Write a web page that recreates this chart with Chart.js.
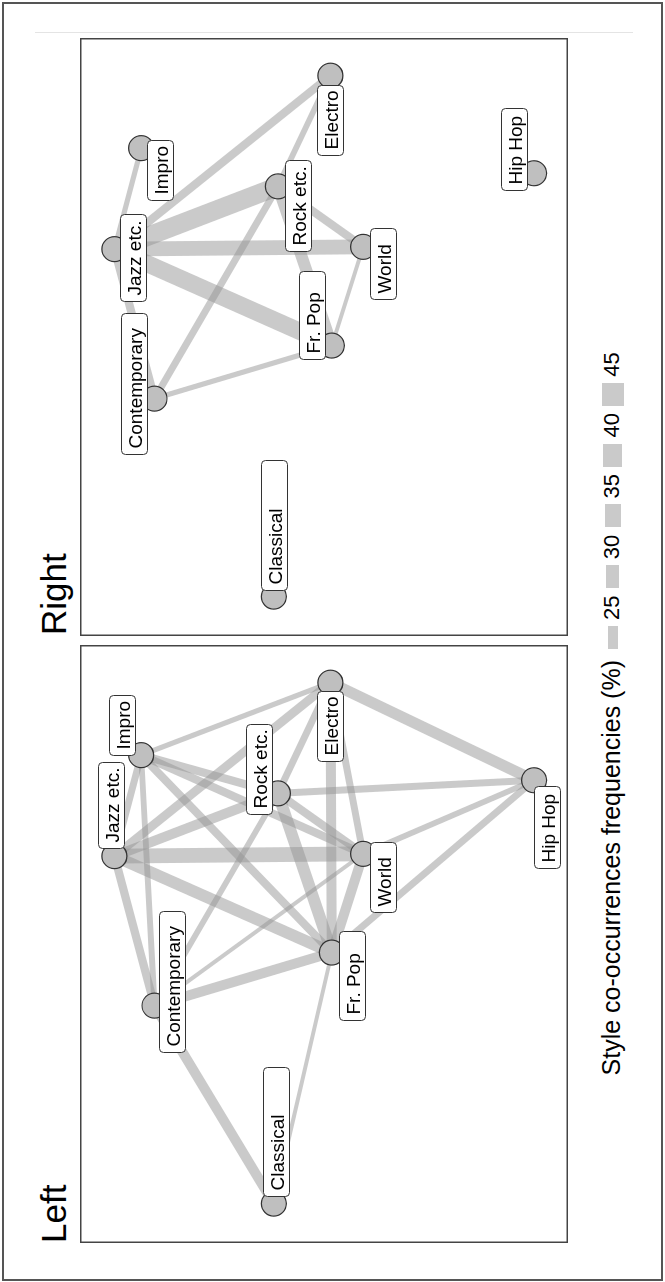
<!DOCTYPE html>
<html>
<head>
<meta charset="utf-8">
<script src="https://cdn.jsdelivr.net/npm/chart.js@4.4.1/dist/chart.umd.min.js"></script>
<style>
  html, body { margin: 0; padding: 0; background: #fff; overflow: hidden; }
  body { width: 665px; height: 1282px; position: relative; }
  /* the figure is laid out landscape, then turned a quarter to the left */
  #page {
    position: absolute; left: 0; top: 0; width: 1282px; height: 665px;
    transform-origin: 0 0; transform: translateY(1282px) rotate(-90deg);
    font-family: "Liberation Sans", Arial, sans-serif; color: #000;
  }
  #frame { position: absolute; left: 1px; top: 2px; width: 1279px; height: 661px; box-sizing: border-box; border: 2px solid #555; }
  #rule { position: absolute; left: 1249px; top: 35px; width: 1px; height: 598px; background: #e4e4e4; }
  .panel { position: absolute; top: 80px; }
  .title { position: absolute; font-size: 35px; line-height: 35px; white-space: nowrap; }
  .leg { position: absolute; line-height: 1; white-space: nowrap; }
  .key { position: absolute; }
</style>
</head>
<body>
<div id="page">
  <div id="frame"></div>
  <div id="rule"></div>
  <div class="title" style="left:39px; top:36px;">Left</div>
  <div class="title" style="left:647px; top:36px;">Right</div>
  <canvas id="left" class="panel" style="left:39px;" width="598" height="488"></canvas>
  <canvas id="right" class="panel" style="left:646px;" width="598" height="488"></canvas>
  <div id="legend"></div>
</div>
<script>
// node layout (same layout in both panels, 0-1 across the panel)
const nodeNames = ['Classical', 'Contemporary', 'Jazz etc.', 'Impro', 'Rock etc.', 'Electro', 'World', 'Fr. Pop', 'Hip Hop'];
const nodeX = [0.045, 0.392, 0.654, 0.831, 0.764, 0.958, 0.658, 0.485, 0.787];
const nodeY = [0.391, 0.132, 0.045, 0.103, 0.400, 0.514, 0.585, 0.517, 0.956];

// co-occurrence frequencies (%) : [style, style, value]
const leftEdges = [
  ['Classical', 'Contemporary', 25],
  ['Classical', 'Fr. Pop', 15],
  ['Contemporary', 'Jazz etc.', 22],
  ['Contemporary', 'Impro', 18],
  ['Contemporary', 'Fr. Pop', 25],
  ['Contemporary', 'Rock etc.', 18],
  ['Contemporary', 'World', 15],
  ['Jazz etc.', 'Impro', 20],
  ['Jazz etc.', 'Electro', 23],
  ['Jazz etc.', 'Rock etc.', 25],
  ['Jazz etc.', 'World', 33],
  ['Jazz etc.', 'Fr. Pop', 28],
  ['Impro', 'Electro', 17],
  ['Impro', 'Rock etc.', 22],
  ['Impro', 'World', 22],
  ['Impro', 'Fr. Pop', 22],
  ['Rock etc.', 'Electro', 20],
  ['Rock etc.', 'World', 22],
  ['Rock etc.', 'Fr. Pop', 28],
  ['Rock etc.', 'Hip Hop', 20],
  ['Electro', 'Fr. Pop', 25],
  ['Electro', 'World', 20],
  ['Electro', 'Hip Hop', 27],
  ['World', 'Fr. Pop', 25],
  ['World', 'Hip Hop', 18],
  ['Fr. Pop', 'Hip Hop', 20]
];
const rightEdges = [
  ['Jazz etc.', 'Impro', 17],
  ['Jazz etc.', 'Contemporary', 22],
  ['Jazz etc.', 'Rock etc.', 40],
  ['Jazz etc.', 'Electro', 22],
  ['Jazz etc.', 'World', 33],
  ['Jazz etc.', 'Fr. Pop', 37],
  ['Rock etc.', 'Contemporary', 20],
  ['Rock etc.', 'Electro', 18],
  ['Rock etc.', 'World', 22],
  ['Rock etc.', 'Fr. Pop', 28],
  ['World', 'Fr. Pop', 15],
  ['Contemporary', 'Fr. Pop', 17]
];
const legendBreaks = [25, 30, 35, 40, 45];
const legendTitle = 'Style co-occurrences frequencies (%)';

const edgeColor = 'rgba(150,150,150,0.5)';
function widthFor(f) { return 10 + 0.6 * (f - 25); }

// label boxes: [dx, dy, width] from the node centre, in pixels
const leftBoxes = {
  'Impro': [-1, -32, 60], 'Jazz etc.': [7, -16, 86], 'Rock etc.': [-22, -32, 90],
  'Electro': [-79, -13, 70], 'World': [-59, 7, 70], 'Fr. Pop': [-68, 7, 89],
  'Contemporary': [-47, 5, 141], 'Classical': [7, -11, 129], 'Hip Hop': [-89, 0, 82]
};
const rightBoxes = {
  'Impro': [-53, 6, 60], 'Jazz etc.': [-53, 6, 87], 'Rock etc.': [-66, 7, 91],
  'Electro': [-80, -13, 70], 'World': [-53, 7, 71], 'Fr. Pop': [-14, -33, 88],
  'Contemporary': [-56, -33, 141], 'Classical': [6, -13, 130], 'Hip Hop': [-18, -33, 82]
};

const labelPlugin = {
  id: 'nodeLabels',
  afterDatasetsDraw(chart, args, opts) {
    const ctx = chart.ctx;
    const xs = chart.scales.x, ys = chart.scales.y;
    ctx.save();
    ctx.font = '19px "Liberation Sans", Arial, sans-serif';
    ctx.textBaseline = 'alphabetic';
    nodeNames.forEach((name, i) => {
      const b = opts.boxes[name];
      const x0 = Math.round(xs.getPixelForValue(nodeX[i]) + b[0]) + 0.5;
      const y0 = Math.round(ys.getPixelForValue(nodeY[i]) + b[1]) + 0.5;
      ctx.beginPath();
      ctx.roundRect(x0, y0, b[2], 26, 4);
      ctx.fillStyle = '#fff';
      ctx.fill();
      ctx.strokeStyle = '#333';
      ctx.lineWidth = 1;
      ctx.stroke();
      ctx.fillStyle = '#000';
      ctx.fillText(name, x0 + 6, y0 + 20);
    });
    ctx.strokeStyle = '#444';
    ctx.lineWidth = 1.5;
    ctx.strokeRect(0.75, 0.75, chart.width - 1.5, chart.height - 1.5);
    ctx.restore();
  }
};

function drawPanel(id, edges, boxes) {
  const pos = name => {
    const i = nodeNames.indexOf(name);
    return { x: nodeX[i], y: nodeY[i] };
  };
  const datasets = [{
    data: nodeNames.map(pos),
    pointRadius: 12.5,
    pointBackgroundColor: '#bfbfbf',
    pointBorderColor: '#333',
    pointBorderWidth: 1.2,
    backgroundColor: '#bfbfbf',
    borderColor: '#333',
    order: 0
  }];
  edges.forEach(e => {
    datasets.push({
      data: [pos(e[0]), pos(e[1])],
      showLine: true,
      borderColor: edgeColor,
      borderWidth: widthFor(e[2]),
      borderCapStyle: 'butt',
      pointRadius: 0,
      order: 1
    });
  });
  new Chart(document.getElementById(id), {
    type: 'scatter',
    data: { datasets: datasets },
    options: {
      responsive: false,
      animation: false,
      events: [],
      layout: { padding: 0 },
      scales: {
        x: { type: 'linear', min: 0, max: 1, display: false },
        y: { type: 'linear', min: 0, max: 1, reverse: true, display: false }
      },
      plugins: {
        legend: { display: false },
        tooltip: { enabled: false },
        nodeLabels: { boxes: boxes }
      }
    },
    plugins: [labelPlugin]
  });
}

drawPanel('left', leftEdges, leftBoxes);
drawPanel('right', rightEdges, rightBoxes);

// size legend
const legend = document.getElementById('legend');
const baseline = 620;
function legendText(txt, size) {
  const d = document.createElement('div');
  d.className = 'leg';
  d.textContent = txt;
  d.style.fontSize = size + 'px';
  d.style.top = (baseline - 0.8465 * size) + 'px';
  legend.appendChild(d);
  return d;
}
const t = legendText(legendTitle, 25);
t.style.right = (1282 - 622) + 'px';
legendBreaks.forEach((b, i) => {
  const x = 633 + i * 60.8;
  const w = widthFor(b);
  const k = document.createElement('div');
  k.className = 'key';
  k.style.left = x + 'px';
  k.style.width = '23px';
  k.style.top = (612.5 - w / 2) + 'px';
  k.style.height = w + 'px';
  k.style.background = edgeColor;
  legend.appendChild(k);
  legendText(String(b), 22).style.left = (x + 29) + 'px';
});
</script>
</body>
</html>
